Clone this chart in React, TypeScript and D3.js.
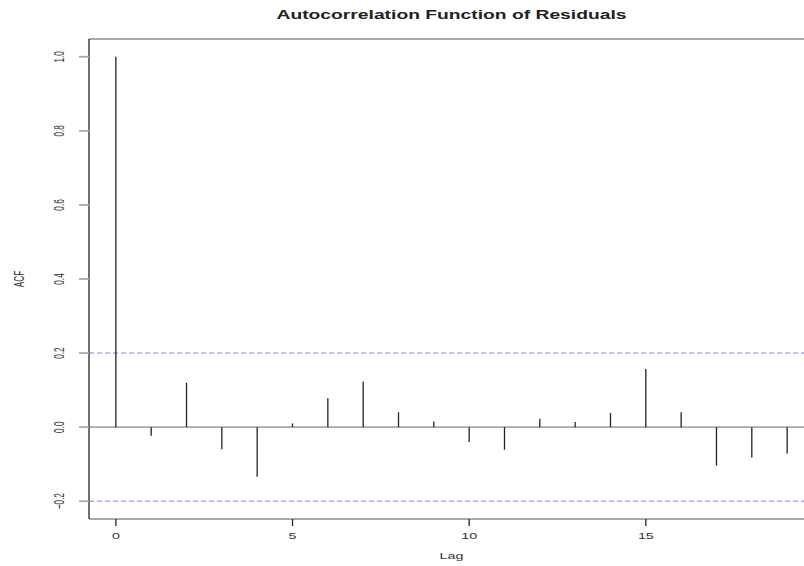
// App.tsx - ACF of residuals, R base-graphics look
import * as d3 from 'd3';

const lags = [0, 1, 2, 3, 4, 5, 6, 7, 8, 9, 10, 11, 12, 13, 14, 15, 16, 17, 18, 19];
const acfValues = [
  1.0, -0.023, 0.12, -0.06, -0.134, 0.01, 0.078, 0.123, 0.04, 0.015,
  -0.04, -0.061, 0.023, 0.014, 0.038, 0.157, 0.04, -0.104, -0.082, -0.071,
];
const ciLimit = 0.2;
const xTicks = [0, 5, 10, 15];
const yTicks = [-0.2, 0.0, 0.2, 0.4, 0.6, 0.8, 1.0];

const title = 'Autocorrelation Function of Residuals';
const xLabel = 'Lag';
const yLabel = 'ACF';

const W = 804;
const H = 566;
const box = { left: 89, right: 814, top: 39, bottom: 519 };

const font = 'Liberation Sans, Arial, Helvetica, sans-serif';
const hLine = '#a9a9a9'; // horizontal lines come out greyish in the reference
const vLine = '#222';

export default function App() {
  // R pads the data range by 4% on each side
  const xMin = d3.min(lags)!;
  const xMax = d3.max(lags)!;
  const xPad = (xMax - xMin) * 0.04;
  const x = d3.scaleLinear().domain([xMin - xPad, xMax + xPad]).range([box.left, box.right]);

  const yLo = Math.min(-ciLimit, d3.min(acfValues)!);
  const yHi = Math.max(ciLimit, d3.max(acfValues)!);
  const yPad = (yHi - yLo) * 0.04;
  const y = d3.scaleLinear().domain([yLo - yPad, yHi + yPad]).range([box.bottom, box.top]);

  const fmt = d3.format('.1f');

  return (
    <svg
      width={W}
      height={H}
      style={{ position: 'absolute', left: 0, top: 0, background: '#fff' }}
      fontFamily={font}
    >
      {/* title */}
      <text
        x={(box.left + box.right) / 2}
        y={19}
        textAnchor="middle"
        fontWeight="bold"
        fontSize={12.5}
        textLength={350}
        lengthAdjust="spacingAndGlyphs"
        fill="#222"
      >
        {title}
      </text>

      {/* confidence band */}
      {[ciLimit, -ciLimit].map((v) => (
        <line
          key={v}
          x1={box.left}
          x2={box.right}
          y1={y(v)}
          y2={y(v)}
          stroke="#a4acff"
          strokeWidth={1.6}
          strokeDasharray="5,3"
        />
      ))}

      {/* zero line */}
      <line x1={box.left} x2={box.right} y1={y(0)} y2={y(0)} stroke={hLine} strokeWidth={1.8} />

      {/* spikes */}
      {lags.map((lag, i) => (
        <line
          key={lag}
          x1={x(lag)}
          x2={x(lag)}
          y1={y(0)}
          y2={y(acfValues[i])}
          stroke={vLine}
          strokeWidth={1.3}
        />
      ))}

      {/* box */}
      <line x1={box.left} x2={box.right} y1={box.top} y2={box.top} stroke={hLine} strokeWidth={1.8} />
      <line x1={box.left} x2={box.right} y1={box.bottom} y2={box.bottom} stroke={hLine} strokeWidth={1.8} />
      <line x1={box.left} x2={box.left} y1={box.top} y2={box.bottom} stroke={vLine} strokeWidth={1.3} />
      <line x1={box.right} x2={box.right} y1={box.top} y2={box.bottom} stroke={vLine} strokeWidth={1.3} />

      {/* y axis */}
      {yTicks.map((t) => (
        <g key={t}>
          <line x1={box.left - 10} x2={box.left} y1={y(t)} y2={y(t)} stroke={hLine} strokeWidth={1.8} />
          <text
            transform={`translate(64,${y(t)}) rotate(-90) scale(0.75,1.3)`}
            textAnchor="middle"
            fontSize={11}
            fill="#333"
          >
            {fmt(t)}
          </text>
        </g>
      ))}

      {/* x axis */}
      {xTicks.map((t) => (
        <g key={t}>
          <line x1={x(t)} x2={x(t)} y1={box.bottom} y2={box.bottom + 7} stroke={vLine} strokeWidth={1.3} />
          <text
            transform={`translate(${x(t)},539) scale(1.3,0.8)`}
            textAnchor="middle"
            fontSize={11}
            fill="#333"
          >
            {t}
          </text>
        </g>
      ))}

      {/* axis titles */}
      <text
        transform={`translate(${(box.left + box.right) / 2},559) scale(1.3,0.8)`}
        textAnchor="middle"
        fontSize={11}
        fill="#333"
      >
        {xLabel}
      </text>
      <text
        transform={`translate(24,${y(0.4)}) rotate(-90) scale(0.75,1.3)`}
        textAnchor="middle"
        fontSize={11}
        fill="#333"
      >
        {yLabel}
      </text>
    </svg>
  );
}
